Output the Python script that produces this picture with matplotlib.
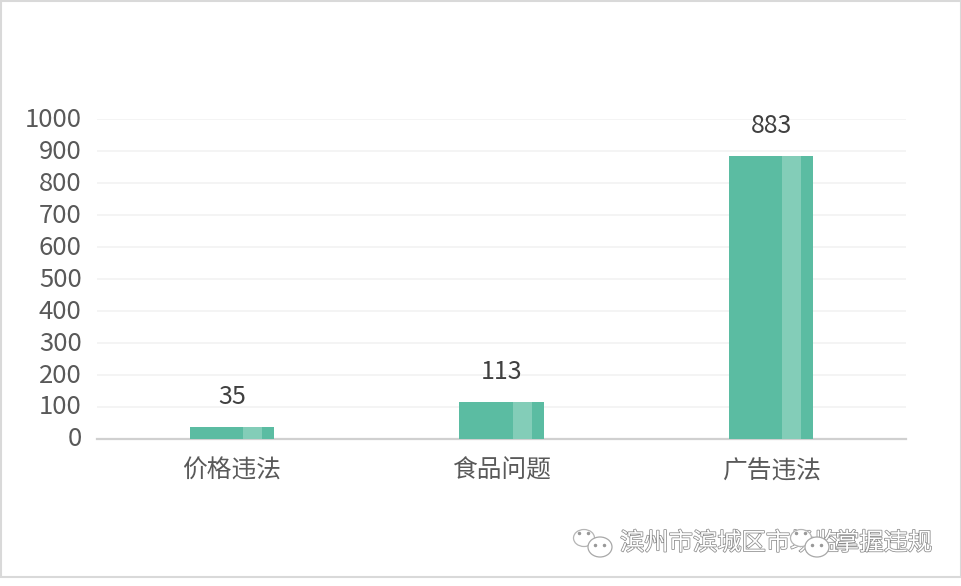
import matplotlib
matplotlib.use("Agg")
import matplotlib.pyplot as plt
import matplotlib.patheffects as pe
from matplotlib.patches import Ellipse, Rectangle
from matplotlib.transforms import ScaledTranslation

plt.rcParams['font.family'] = ['Noto Sans CJK SC', 'DejaVu Sans']

W, H = 962, 586

categories = ["价格违法", "食品问题", "广告违法"]
values = [35, 113, 883]
y_ticks = [0, 100, 200, 300, 400, 500, 600, 700, 800, 900, 1000]

TEXT = "#595959"
BAR = "#5bbca2"
SHINE = "#83cdb8"
GRID = "#f2f2f2"

fig = plt.figure(figsize=(W / 100, H / 100), dpi=100, facecolor="white")

# frame of the screenshot, bottom edge stops above the last rows
page = fig.add_axes([0, 0, 1, 1])
page.set_xlim(0, W)
page.set_ylim(H, 0)
page.axis("off")
page.add_patch(Rectangle((1, 1), W - 2, 576, fill=False, ec="#d9d9d9", lw=1.5))

# plot area
ax = fig.add_axes([97 / W, 1 - 438.5 / H, 809 / W, 319.5 / H])
x = list(range(len(categories)))
bar_w = 0.312
ax.bar(x, values, width=bar_w, color=BAR, zorder=3)
# lighter strip on each bar
ax.bar([i + bar_w * 0.245 for i in x], values, width=bar_w * 0.225, color=SHINE, zorder=4)

for i, v in zip(x, values):
    ax.annotate(str(v), (i, v), xytext=(0, 12.5), textcoords="offset points",
                ha="center", va="bottom", fontsize=18, color="#404040")

ax.set_xlim(-0.5, 2.5)
ax.set_ylim(0, 1000)
ax.set_yticks(y_ticks)
ax.set_xticks(x)
ax.set_xticklabels(categories)
ax.tick_params(axis="y", length=0, pad=11, labelsize=18.5, labelcolor=TEXT)
ax.tick_params(axis="x", length=0, pad=14, labelsize=17.8, labelcolor=TEXT)
# y labels sit a little above their grid lines
nudge = ScaledTranslation(0, 1.5 / 72, fig.dpi_scale_trans)
for lab in ax.get_yticklabels():
    lab.set_transform(lab.get_transform() + nudge)
ax.grid(axis="y", color=GRID, lw=1.2, zorder=0)
for name in ["top", "right", "left"]:
    ax.spines[name].set_visible(False)
ax.spines["bottom"].set_color("#d0d0d0")
ax.spines["bottom"].set_linewidth(1.6)
ax.patch.set_alpha(0)

# watermark
halo = [pe.withStroke(linewidth=1.1, foreground="#8c8c8c")]
page.text(620, 543, "滨州市滨城区市场监", fontsize=17.5, color="white", va="center", path_effects=halo)
page.text(835, 543, "掌握违规", fontsize=17.5, color="white", va="center", path_effects=halo)

# chat bubble logos, the second one covers part of the caption
for ox in (573, 790):
    page.add_patch(Ellipse((ox + 11, 538), 21, 17, fc="white", ec="#b5b5b5", lw=0.9, zorder=5))
    page.add_patch(Ellipse((ox + 27, 547), 24, 20, fc="white", ec="#a8a8a8", lw=0.9, zorder=6))
    for dx, dy in [(6, 533), (15, 533), (22, 545), (31, 545)]:
        page.plot(ox + dx, dy, "o", ms=1.5, color="#999999", zorder=7)

fig.savefig("out.png", dpi=100)
